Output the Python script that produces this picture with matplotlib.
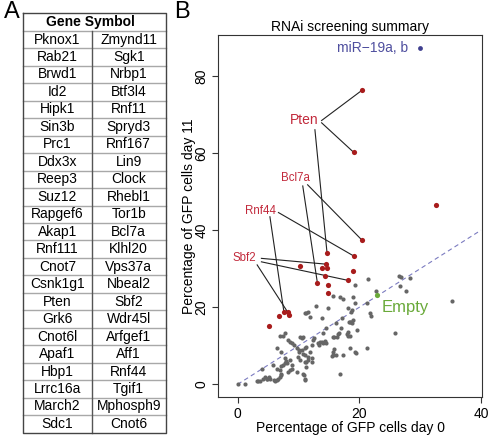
import matplotlib
matplotlib.use("Agg")
import matplotlib.pyplot as plt

plt.rcParams['font.family'] = ['Liberation Sans', 'DejaVu Sans']

# panel A: gene table
genes_left = ["Pknox1", "Rab21", "Brwd1", "Id2", "Hipk1", "Sin3b", "Prc1", "Ddx3x",
              "Reep3", "Suz12", "Rapgef6", "Akap1", "Rnf111", "Cnot7", "Csnk1g1", "Pten",
              "Grk6", "Cnot6l", "Apaf1", "Hbp1", "Lrrc16a", "March2", "Sdc1"]
genes_right = ["Zmynd11", "Sgk1", "Nrbp1", "Btf3l4", "Rnf11", "Spryd3", "Rnf167", "Lin9",
               "Clock", "Rhebl1", "Tor1b", "Bcl7a", "Klhl20", "Vps37a", "Nbeal2", "Sbf2",
               "Wdr45l", "Arfgef1", "Aff1", "Rnf44", "Tgif1", "Mphosph9", "Cnot6"]

# panel B: screen results (% GFP cells day 0 vs day 11)
gray_x = [0.0, 1.2, 3.1, 3.4, 3.7, 4.1, 4.5, 4.8, 4.9, 5.3, 5.2, 5.9, 6.1, 6.4, 6.7, 7.0,
          7.1, 7.2, 6.4, 7.0, 7.1, 7.5, 7.8, 7.8, 7.9, 8.1, 8.3, 8.6, 8.9, 9.7, 10.8, 10.9,
          11.1, 11.0, 6.4, 7.2, 7.8, 8.3, 8.6, 8.9, 9.2, 9.7, 10.0, 10.3, 10.5, 10.8, 10.1,
          10.5, 10.8, 11.1, 11.3, 11.1, 11.3, 11.6, 11.1, 11.3, 11.5, 11.9, 11.6, 11.9, 12.2,
          12.4, 12.6, 12.8, 13.2, 13.5, 13.8, 14.1, 14.4, 14.5, 13.3, 14.1, 14.6, 13.9, 14.9,
          15.7, 15.7, 15.8, 16.1, 16.3, 16.6, 17.1, 16.9, 17.4, 17.9, 18.2, 18.5, 18.8, 19.0,
          19.3, 18.8, 18.5, 19.3, 19.6, 21.2, 21.2, 21.8, 21.9, 22.7, 25.9, 27.6, 35.2, 21.4,
          19.3, 26.5, 26.9, 28.3, 26.7, 16.8, 17.4, 19.0, 12.2, 12.3, 15.6, 15.8, 18.1, 18.5,
          16.5, 18.6, 18.1, 18.3, 18.6, 16.1, 17.0, 15.7, 15.5, 19.4, 4.05, 5.75, 7.0, 7.4,
          9.9, 10.2, 8.6, 8.9, 11.0, 11.2]
gray_y = [0.0, 0.2, 0.8, 0.9, 0.8, 1.5, 1.8, 1.3, 1.5, 1.3, 1.9, 1.1, 0.9, 1.1, 1.3, 1.8,
          2.4, 2.8, 4.1, 3.7, 4.8, 5.0, 5.6, 6.7, 6.1, 5.6, 3.3, 3.7, 4.1, 3.3, 2.8, 2.4,
          1.5, 1.1, 9.3, 8.5, 13.2, 11.5, 11.1, 10.6, 10.2, 9.3, 8.9, 12.4, 11.9, 12.4, 8.5,
          8.9, 7.9, 9.3, 9.6, 5.9, 5.9, 6.3, 18.4, 18.6, 18.8, 17.5, 7.2, 8.5, 10.2,
          11.5, 11.9, 20.3, 10.6, 10.9, 11.1, 10.8, 11.2, 10.8, 10.2, 13.2, 14.5, 17.1, 19.7,
          22.8, 8.5, 9.1, 7.6, 12.4, 13.2, 17.3, 2.8, 7.6, 13.1, 13.7, 16.3, 15.8, 16.7,
          21.2, 19.3, 9.3, 8.5, 14.1, 21.0, 9.3, 18.4, 17.7, 24.2, 13.4, 24.2, 21.5, 27.3,
          25.9, 28.0, 27.8, 27.6, 25.6, 22.7, 22.2, 22.7, 6.8, 5.9, 12.4, 12.2, 12.6, 12.6,
          13.0, 18.7, 19.7, 16.3, 16.1, 16.0, 14.5, 7.6, 7.4, 8.0, 3.9, 5.0, 12.5, 12.6,
          7.2, 6.3, 6.3, 5.0, 7.5, 4.5]

hit_x = [20.4, 19.1, 32.6, 20.4, 19.1, 14.7, 14.5, 10.2, 13.9, 14.7, 18.9, 14.4, 18.1,
         13.1, 14.8, 14.8, 5.15, 6.8, 7.6, 8.2, 8.4]
hit_y = [76.3, 60.2, 46.6, 37.5, 33.3, 34.0, 31.2, 30.6, 30.2, 30.2, 29.4, 28.0, 27.0,
         26.4, 25.8, 23.8, 15.2, 17.7, 18.8, 18.8, 18.1]

mir_x, mir_y = [30.0], [87.4]
empty_x, empty_y = [22.9], [23.2]

label_names = ["Pten", "Bcl7a", "Rnf44", "Sbf2"]
label_x = [10.9, 9.5, 3.7, 1.1]
label_y = [68.5, 53.5, 45.1, 32.7]
label_size = [10, 8.3, 8.3, 8.3]

# lines from labels to their shRNA points
link_x0 = [13.8, 13.8, 12.7, 10.7, 11.5, 6.7, 5.3, 3.9, 3.9, 3.2]
link_y0 = [68.5, 67.9, 66.1, 51.5, 51.8, 44.6, 43.5, 32.7, 31.8, 31.0]
link_x1 = [20.4, 19.1, 14.7, 13.1, 20.4, 19.1, 7.6, 14.5, 18.1, 8.2]
link_y1 = [76.3, 60.2, 34.0, 26.4, 37.5, 33.3, 18.8, 31.2, 27.0, 18.8]

W, H = 491, 438
fig = plt.figure(figsize=(W / 100, H / 100), dpi=100)

# ---- panel A ----
axt = fig.add_axes([0, 0, 1, 1])
axt.set_xlim(0, W)
axt.set_ylim(H, 0)
axt.axis('off')

tl, tr, tt, tb = 23.3, 165.7, 13.3, 432.7
mid = 91.7
nrows = len(genes_left) + 1
rh = (tb - tt) / nrows
for k in range(1, nrows):
    yy = tt + k * rh
    axt.plot([tl, tr], [yy, yy], color='#a8a8a8', lw=1.0)
axt.plot([mid, mid], [tt + rh, tb], color='#555555', lw=1.0)
axt.plot([tl, tr, tr, tl, tl], [tt, tt, tb, tb, tt], color='#444444', lw=1.0)
axt.text(90, tt + rh / 2, "Gene Symbol", ha='center', va='center',
         fontsize=10, fontweight='bold')
for k, (g1, g2) in enumerate(zip(genes_left, genes_right)):
    yy = tt + (k + 1.5) * rh
    axt.text((tl + mid) / 2, yy, g1, ha='center', va='center', fontsize=10)
    axt.text((mid + tr) / 2, yy, g2, ha='center', va='center', fontsize=10)

axt.text(11.5, 12, "A", ha='center', va='center', fontsize=17)
axt.text(181.5, 12, "B", ha='center', va='center', fontsize=17)

# ---- panel B ----
ax = fig.add_axes([218 / W, 1 - 397 / H, 264 / W, 362 / H])
ax.set_xlim(-3.24, 40.18)
ax.set_ylim(-3.3, 90.7)

ax.plot([0, 40], [0, 40], ls=(0, (4, 3)), color='#7b7bc0', lw=0.8, zorder=1)
for x0, y0, x1, y1 in zip(link_x0, link_y0, link_x1, link_y1):
    ax.plot([x0, x1], [y0, y1], color='#222222', lw=0.8, zorder=2)

ax.scatter(gray_x, gray_y, s=9, color='#666666', lw=0, zorder=3)
ax.scatter(hit_x, hit_y, s=14, color='#a81c1c', lw=0, zorder=4)
ax.scatter(mir_x, mir_y, s=12, color='#3f3f8f', lw=0, zorder=4)
ax.scatter(empty_x, empty_y, s=14, color='#6aaa3a', lw=0, zorder=4)

for name, lx, ly, fs in zip(label_names, label_x, label_y, label_size):
    ax.text(lx, ly, name, color='#c22a3c', fontsize=fs, ha='center', va='center')
ax.text(22.2, 87.4, "miR\u221219a, b", color='#4f4f9f', fontsize=10, ha='center', va='center')
ax.text(27.6, 20.0, "Empty", color='#6aaa3a', fontsize=12, ha='center', va='center')

ax.set_title("RNAi screening summary", fontsize=10, pad=3)
ax.set_xticks([0, 20, 40])
ax.set_yticks([0, 20, 40, 60, 80])
ax.tick_params(direction='out', length=4, width=0.8, labelsize=10, color='#333333')
ax.tick_params(axis='x', pad=3)
ax.tick_params(axis='y', pad=3)
for lab in ax.get_yticklabels():
    lab.set_rotation(90)
    lab.set_va('center')
for sp in ax.spines.values():
    sp.set_color('#333333')
    sp.set_linewidth(0.8)

ax.set_xlabel("Percentage of GFP cells day 0", fontsize=10)
ax.set_ylabel("Percentage of GFP cells day 11", fontsize=10)
ax.xaxis.set_label_coords(0.5, -0.066)
ax.yaxis.set_label_coords(-0.085, 0.5)

fig.savefig("out.png", dpi=100)
